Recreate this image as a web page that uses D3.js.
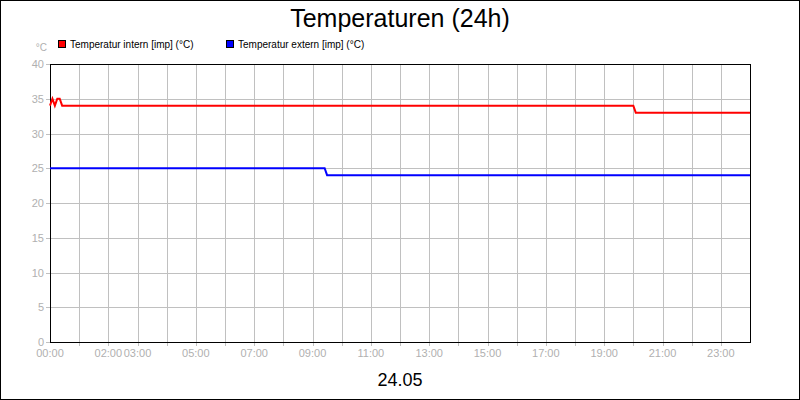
<html>
<head>
<meta charset="utf-8">
<script src="https://cdn.jsdelivr.net/npm/d3@7"></script>
<style>
body { margin: 0; }
text { font-family: "Liberation Sans", Arial, sans-serif; }
</style>
</head>
<body>
<script>
// time in minutes since 00:00, value in °C
var internTimes = [0, 5, 10, 15, 20, 25, 1200, 1205, 1440];
var internVals  = [34, 35, 34, 35, 35, 34, 34, 33, 33];
var externTimes = [0, 565, 570, 1440];
var externVals  = [25, 25, 24, 24];
var yTicks = [0, 5, 10, 15, 20, 25, 30, 35, 40];
var xLabelHours = [0, 2, 3, 5, 7, 9, 11, 13, 15, 17, 19, 21, 23];

var w = 800, h = 400,
    pLeft = 50, pRight = 750, pTop = 64, pBottom = 342;

var x = d3.scaleLinear().domain([0, 1440]).range([pLeft, pRight]),
    y = d3.scaleLinear().domain([0, 40]).range([pBottom, pTop]);

var svg = d3.select("body").append("svg").attr("width", w).attr("height", h);

svg.append("rect").attr("x", 0.5).attr("y", 0.5).attr("width", w - 1).attr("height", h - 1)
    .attr("fill", "#fff").attr("stroke", "#000");

svg.append("text").attr("x", 400).attr("y", 27).attr("text-anchor", "middle")
    .attr("font-size", 25).text("Temperaturen (24h)");

// grid
svg.selectAll("line.vg").data(d3.range(1, 24)).enter().append("line")
    .attr("x1", function(d) { return Math.round(x(d * 60)) + 0.5; })
    .attr("x2", function(d) { return Math.round(x(d * 60)) + 0.5; })
    .attr("y1", pTop).attr("y2", pBottom + 4).attr("stroke", "#c0c0c0");
svg.selectAll("line.hg").data(yTicks.slice(1)).enter().append("line")
    .attr("x1", pLeft - 4).attr("x2", pRight)
    .attr("y1", function(d) { return Math.round(y(d)) + 0.5; })
    .attr("y2", function(d) { return Math.round(y(d)) + 0.5; })
    .attr("stroke", "#c0c0c0");
svg.append("line").attr("x1", pLeft - 4).attr("x2", pLeft)
    .attr("y1", pBottom + 0.5).attr("y2", pBottom + 0.5).attr("stroke", "#c0c0c0");

svg.selectAll("text.yt").data(yTicks).enter().append("text")
    .attr("x", pLeft - 6).attr("y", function(d) { return y(d) + 4; })
    .attr("text-anchor", "end").attr("font-size", 11).attr("fill", "#b0b0b0").text(function(d) { return d; });
svg.append("text").attr("x", 47).attr("y", 51).attr("text-anchor", "end")
    .attr("font-size", 10).attr("fill", "#b0b0b0").text("°C");

svg.selectAll("text.xt").data(xLabelHours).enter().append("text")
    .attr("x", function(d) { return x(d * 60); }).attr("y", pBottom + 15)
    .attr("text-anchor", "middle").attr("font-size", 11).attr("fill", "#b0b0b0")
    .text(function(d) { return (d < 10 ? "0" : "") + d + ":00"; });

svg.append("rect").attr("x", pLeft + 0.5).attr("y", pTop + 0.5)
    .attr("width", pRight - pLeft).attr("height", pBottom - pTop)
    .attr("fill", "none").attr("stroke", "#000");

var line = d3.line().x(function(d) { return x(d[0]); }).y(function(d) { return y(d[1]); });
svg.append("path").attr("d", line(d3.zip(internTimes, internVals)))
    .attr("fill", "none").attr("stroke", "#ff0000").attr("stroke-width", 2);
svg.append("path").attr("d", line(d3.zip(externTimes, externVals)))
    .attr("fill", "none").attr("stroke", "#0000ff").attr("stroke-width", 2);

// legend
var legend = [["Temperatur intern [imp] (°C)", "#ff0000", 58], ["Temperatur extern [imp] (°C)", "#0000ff", 226]];
legend.forEach(function(l) {
  svg.append("rect").attr("x", l[2] + 0.5).attr("y", 40.5).attr("width", 7).attr("height", 7)
      .attr("fill", l[1]).attr("stroke", "#000");
  svg.append("text").attr("x", l[2] + 12).attr("y", 48).attr("font-size", 10).text(l[0]);
});

svg.append("text").attr("x", 400).attr("y", 386).attr("text-anchor", "middle")
    .attr("font-size", 18).text("24.05");
</script>
</body>
</html>
